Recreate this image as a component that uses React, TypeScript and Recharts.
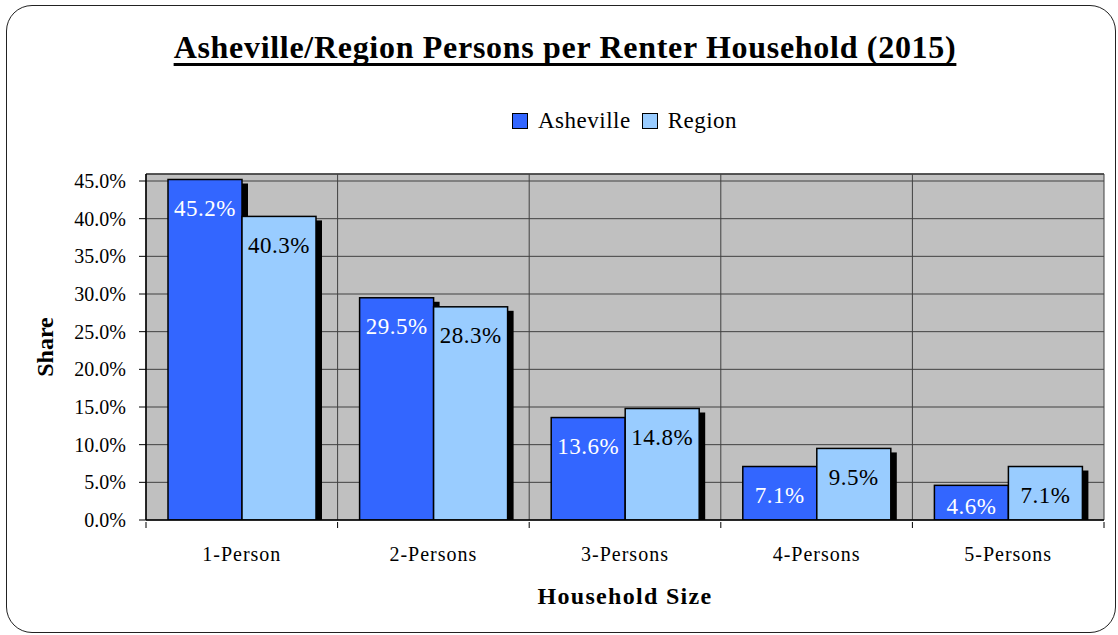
import { BarChart, Bar, XAxis, YAxis, CartesianGrid, ReferenceLine, LabelList, Label } from "recharts"

const categories = ["1-Person", "2-Persons", "3-Persons", "4-Persons", "5-Persons"]
const asheville = [45.2, 29.5, 13.6, 7.1, 4.6]
const region = [40.3, 28.3, 14.8, 9.5, 7.1]
const yTicks = [0, 5, 10, 15, 20, 25, 30, 35, 40, 45]
const Y_MAX = 45.93

const FONT = "'Liberation Serif', 'Times New Roman', serif"
const W = 1118
const H = 635
const PLOT_W = 958

const data = categories.map((c, i) => ({ name: c, asheville: asheville[i], region: region[i] }))

function ShadowBar(props: any) {
  const { x, y, width, height, fill } = props
  if (!height || height <= 0) return null
  return (
    <g>
      <rect x={x + 6} y={y + 4} width={width} height={Math.max(height - 4, 0)} fill="#000" />
      <rect x={x} y={y} width={width} height={height} fill={fill} stroke="#000" strokeWidth={1.5} />
    </g>
  )
}

function barLabel(color: string) {
  return (props: any) => {
    const { x, y, width, height, value } = props
    const cy = Math.min(y + 29, y + height - 14)
    return (
      <text
        x={x + width / 2}
        y={cy}
        textAnchor="middle"
        dominantBaseline="central"
        fill={color}
        fontFamily={FONT}
        fontSize={23}
        letterSpacing={0.5}
      >
        {`${Number(value).toFixed(1)}%`}
      </text>
    )
  }
}

function CategoryTick(props: any) {
  const { x, y, payload, index } = props
  const catW = PLOT_W / categories.length
  return (
    <g>
      <line x1={x - catW / 2} y1={y} x2={x - catW / 2} y2={y + 6} stroke="#000" />
      {index === categories.length - 1 && (
        <line x1={x + catW / 2} y1={y} x2={x + catW / 2} y2={y + 6} stroke="#000" />
      )}
      <text x={x} y={y + 39} textAnchor="middle" fill="#000" fontFamily={FONT} fontSize={20} letterSpacing={1}>
        {payload.value}
      </text>
    </g>
  )
}

export default function App() {
  return (
    <div style={{ position: "absolute", left: 0, top: 0, width: W, height: H, background: "#fff", fontFamily: FONT }}>
      <div
        style={{
          position: "absolute",
          left: 6,
          top: 5,
          width: 1108,
          height: 626,
          border: "1.5px solid #222",
          borderRadius: 26,
        }}
      />
      <div
        style={{
          position: "absolute",
          left: 0,
          width: 1130,
          top: 31,
          textAlign: "center",
          fontSize: 32,
          lineHeight: "32px",
          fontWeight: "bold",
          letterSpacing: 0.7,
          textDecoration: "underline",
          textDecorationThickness: 3,
          textUnderlineOffset: 5,
          textDecorationSkipInk: "none",
        }}
      >
        Asheville/Region Persons per Renter Household (2015)
      </div>
      <div
        style={{
          position: "absolute",
          left: 512,
          top: 109,
          display: "flex",
          alignItems: "center",
          fontSize: 23,
          lineHeight: "23px",
          letterSpacing: 0.5,
        }}
      >
        {[
          { label: "Asheville", color: "#3366FF" },
          { label: "Region", color: "#99CCFF" },
        ].map((s) => (
          <div key={s.label} style={{ display: "flex", alignItems: "center", marginRight: 11 }}>
            <span
              style={{
                display: "inline-block",
                width: 14,
                height: 14,
                background: s.color,
                border: "1.5px solid #000",
                marginRight: 10,
              }}
            />
            <span>{s.label}</span>
          </div>
        ))}
      </div>
      <div style={{ position: "absolute", left: 0, top: 0 }}>
        <BarChart
          width={W}
          height={H}
          data={data}
          margin={{ top: 174, right: 14, bottom: 55, left: 66 }}
          barCategoryGap={22}
          barGap={0}
        >
          <CartesianGrid
            fill="#C0C0C0"
            stroke="#404040"
            strokeWidth={1}
            verticalCoordinatesGenerator={({ offset }: any) =>
              categories.map((_, i) => offset.left + (i * offset.width) / categories.length).concat(offset.left + offset.width)
            }
          />
          <ReferenceLine y={Y_MAX} stroke="#404040" strokeWidth={1.5} />
          <XAxis
            dataKey="name"
            height={60}
            axisLine={{ stroke: "#000", strokeWidth: 1.5 }}
            tickLine={false}
            tickSize={0}
            tick={<CategoryTick />}
            interval={0}
          >
            <Label
              content={({ viewBox }: any) => (
                <text
                  x={viewBox.x + viewBox.width / 2}
                  y={viewBox.y + 84}
                  textAnchor="middle"
                  fontFamily={FONT}
                  fontSize={24}
                  fontWeight="bold"
                  letterSpacing={1.3}
                  fill="#000"
                >
                  Household Size
                </text>
              )}
            />
          </XAxis>
          <YAxis
            width={80}
            domain={[0, Y_MAX]}
            ticks={yTicks}
            allowDataOverflow
            tickFormatter={(v: number) => `${v.toFixed(1)}%`}
            axisLine={{ stroke: "#000", strokeWidth: 1.5 }}
            tickLine={{ stroke: "#000" }}
            tickSize={7}
            tickMargin={13}
            tick={{ fill: "#000", fontFamily: FONT, fontSize: 20 }}
          >
            <Label
              content={({ viewBox }: any) => {
                const cx = viewBox.x - 21
                const cy = viewBox.y + viewBox.height / 2
                return (
                  <text
                    x={cx}
                    y={cy}
                    transform={`rotate(-90 ${cx} ${cy})`}
                    textAnchor="middle"
                    dominantBaseline="central"
                    fontFamily={FONT}
                    fontSize={24}
                    fontWeight="bold"
                    fill="#000"
                  >
                    Share
                  </text>
                )
              }}
            />
          </YAxis>
          <Bar dataKey="asheville" fill="#3366FF" shape={<ShadowBar />} isAnimationActive={false}>
            <LabelList dataKey="asheville" content={barLabel("#FFFFFF")} />
          </Bar>
          <Bar dataKey="region" fill="#99CCFF" shape={<ShadowBar />} isAnimationActive={false}>
            <LabelList dataKey="region" content={barLabel("#000000")} />
          </Bar>
        </BarChart>
      </div>
    </div>
  )
}
